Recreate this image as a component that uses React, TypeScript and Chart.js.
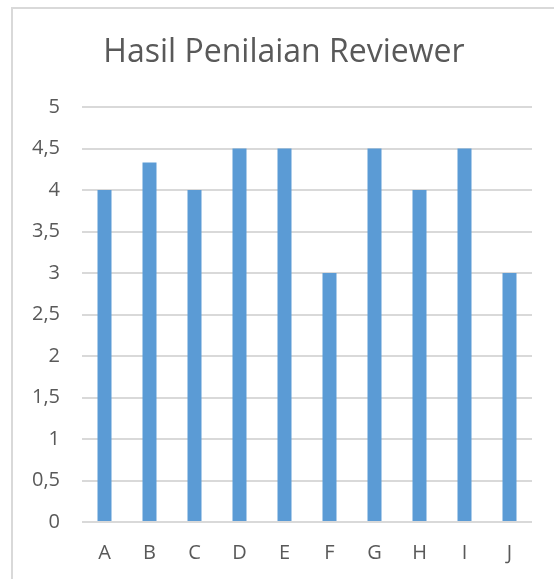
import React, { useEffect, useRef } from "react";
import { Chart, registerables } from "chart.js";

Chart.register(...registerables);

const titleText = "Hasil Penilaian Reviewer";
const categories = ["A", "B", "C", "D", "E", "F", "G", "H", "I", "J"];
const scores = [4, 4.33, 4, 4.5, 4.5, 3, 4.5, 4, 4.5, 3];
const yMin = 0;
const yMax = 5;
const yStep = 0.5;

const titlePlugin = {
  id: "excelTitle",
  afterDraw(chart: any) {
    const ctx = chart.ctx;
    ctx.save();
    ctx.font = '32px "Open Sans"';
    ctx.fillStyle = "#595959";
    ctx.textAlign = "center";
    ctx.textBaseline = "alphabetic";
    ctx.fillText(titleText, 284, 62);
    ctx.restore();
  },
};

export default function App() {
  const ref = useRef<HTMLCanvasElement | null>(null);

  useEffect(() => {
    if (!ref.current) return;
    const chart = new Chart(ref.current, {
      type: "bar",
      data: {
        labels: categories,
        datasets: [
          {
            label: "Nilai",
            data: scores,
            backgroundColor: "#5b9bd5",
            borderWidth: 0,
            barPercentage: 0.311,
            categoryPercentage: 1,
          },
        ],
      },
      options: {
        responsive: false,
        animation: false,
        devicePixelRatio: 1,
        layout: { padding: { left: 0, right: 22, top: 107, bottom: 0 } },
        plugins: {
          legend: { display: false },
          title: { display: false },
          tooltip: { enabled: false },
        },
        scales: {
          x: {
            grid: { display: false, drawTicks: false },
            border: { display: false },
            ticks: {
              color: "#595959",
              font: { family: "Open Sans", size: 20 },
              padding: 19,
              maxRotation: 0,
            },
            afterFit(scale: any) {
              scale.height = 57;
            },
          },
          y: {
            min: yMin,
            max: yMax,
            grid: { color: "#d9d9d9", lineWidth: 2, drawTicks: false },
            border: { display: false },
            ticks: {
              stepSize: yStep,
              color: "#595959",
              font: { family: "Open Sans", size: 20 },
              padding: 22,
              callback: (v: any) => String(v).replace(".", ","),
            },
            afterFit(scale: any) {
              scale.width = 82;
            },
          },
        },
      },
      plugins: [titlePlugin],
    });
    return () => chart.destroy();
  }, []);

  return (
    <div
      style={{
        position: "fixed",
        left: 0,
        top: 0,
        width: 554,
        height: 579,
        background: "#ffffff",
        overflow: "hidden",
      }}
    >
      <div
        style={{
          position: "absolute",
          left: 11,
          top: 7,
          width: 560,
          height: 600,
          borderTop: "2px solid #d9d9d9",
          borderLeft: "2px solid #d9d9d9",
        }}
      />
      <canvas
        ref={ref}
        width={554}
        height={579}
        style={{ position: "absolute", left: 0, top: 0, width: 554, height: 579 }}
      />
    </div>
  );
}
